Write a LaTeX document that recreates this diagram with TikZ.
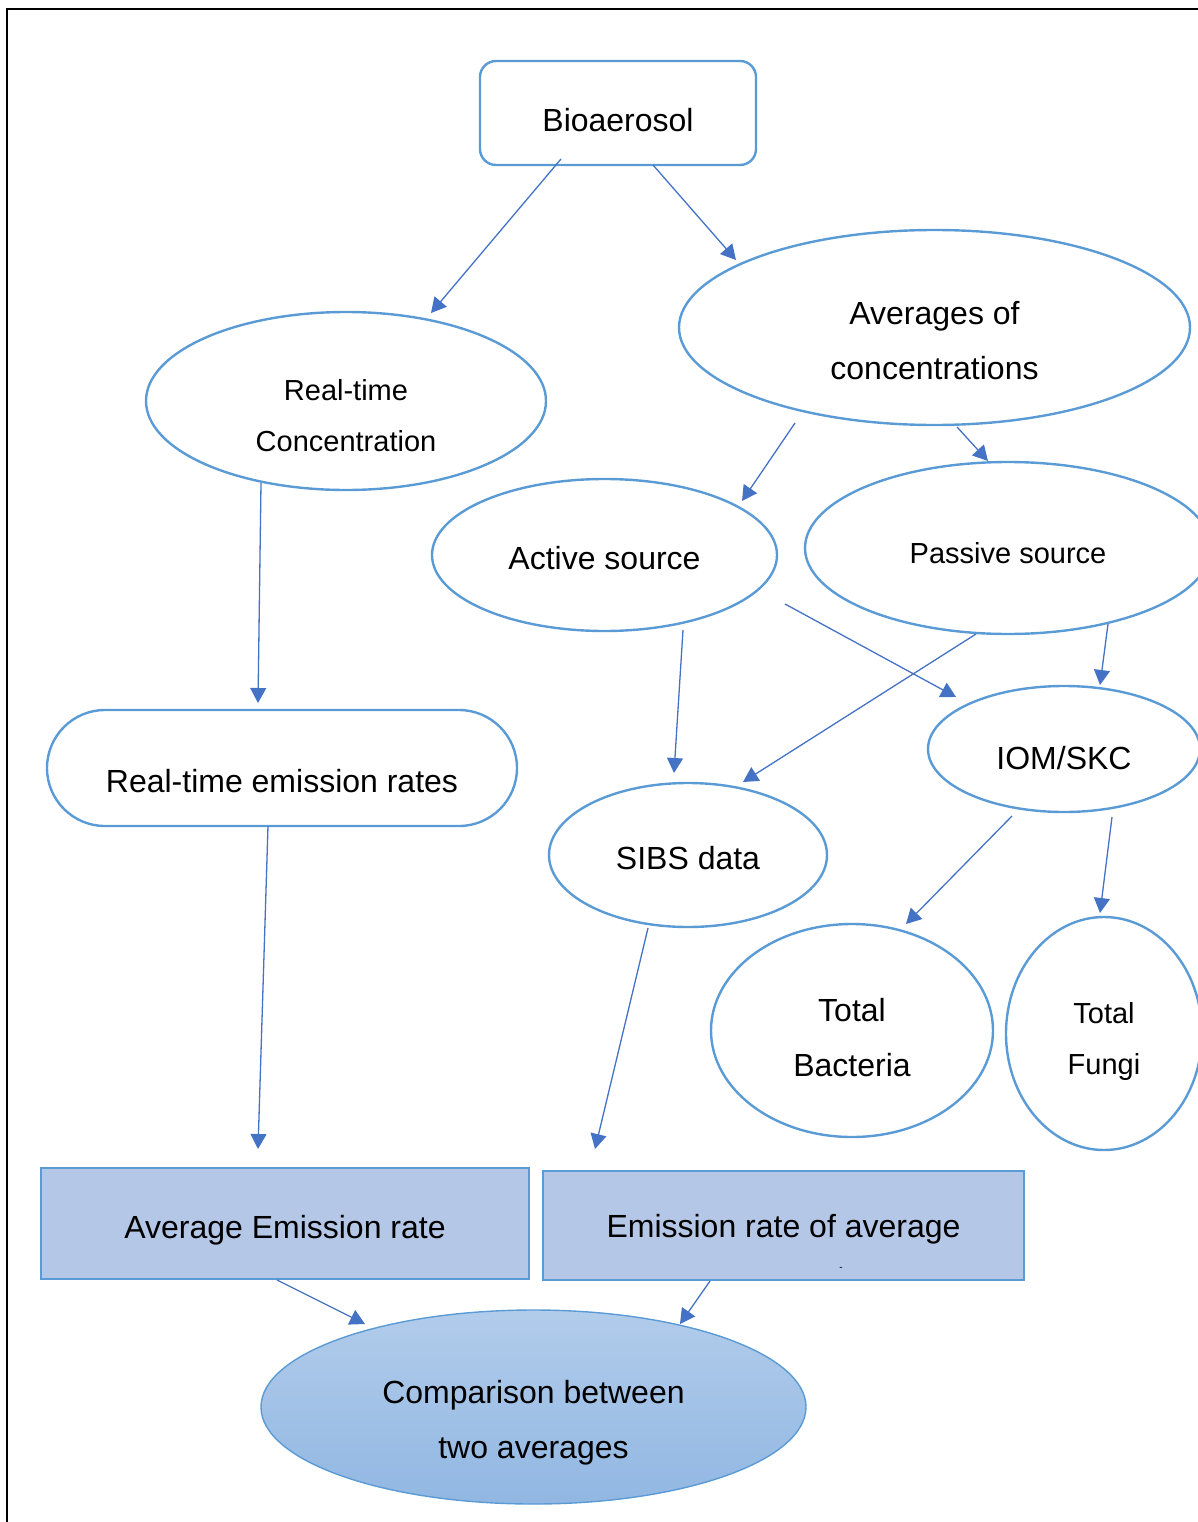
\documentclass[tikz,border=0pt]{standalone}
\usepackage{fontspec}
\setmainfont{Liberation Sans}
\usetikzlibrary{shapes.geometric,arrows.meta,calc}

\definecolor{outline}{HTML}{5B9BD5}
\definecolor{arrowblue}{HTML}{4472C4}
\definecolor{boxfill}{HTML}{B4C7E7}
\definecolor{shadetop}{RGB}{178,204,235}
\definecolor{shadebot}{RGB}{145,183,226}

\tikzset{
  big/.style={font=\fontsize{32}{55}\selectfont},
  small/.style={font=\fontsize{29}{51}\selectfont},
  caption/.style={align=center, text=black, inner sep=0pt},
  oval/.style={ellipse, draw=outline, line width=2.4pt, inner sep=0pt},
  roundbox/.style={rectangle, draw=outline, line width=2.4pt, inner sep=0pt},
  filledbox/.style={rectangle, draw=outline, fill=boxfill, line width=2.4pt, inner sep=0pt},
  link/.style={draw=arrowblue, line width=1.3pt, -{Triangle[length=15pt,width=16pt]}}
}

\begin{document}
\begin{tikzpicture}[x=1pt, y=-1pt]
  \useasboundingbox (0,0) rectangle (1198,1522);
  \clip (0,0) rectangle (1198,1522);

  % page frame
  \draw[line width=2.5pt] (7,1540) -- (7,9) -- (1220,9);

  % top level
  \node[roundbox, rounded corners=16pt, minimum width=276pt, minimum height=104pt,
        label={[caption, big, yshift=-7pt]center:Bioaerosol}] (bio) at (618,113) {};

  % second level
  \node[oval, minimum width=400pt, minimum height=178pt,
        label={[caption, small, yshift=-15pt]center:{Real-time\\Concentration}}] (rtc) at (346,401) {};
  \node[oval, minimum width=511pt, minimum height=195pt,
        label={[caption, big, yshift=-13pt]center:{Averages of\\concentrations}}] (avg) at (934.5,327.5) {};

  % sources
  \node[oval, minimum width=345pt, minimum height=152pt,
        label={[caption, big, yshift=-3pt]center:Active source}] (act) at (604.5,555) {};
  \node[oval, minimum width=406pt, minimum height=172pt,
        label={[caption, small, yshift=-5pt]center:Passive source}] (pas) at (1008,548) {};

  % emission rate chain
  \node[roundbox, rounded corners=58pt, minimum width=470pt, minimum height=116pt,
        label={[caption, big, yshift=-13pt]center:Real-time emission rates}] (rte) at (282,768) {};

  % samplers and data
  \node[oval, minimum width=272pt, minimum height=126pt,
        label={[caption, big, yshift=-9pt]center:IOM/SKC}] (iom) at (1064,749) {};
  \node[oval, minimum width=278pt, minimum height=144pt,
        label={[caption, big, yshift=-3pt]center:SIBS data}] (sibs) at (688,855) {};

  % culture results
  \node[oval, minimum width=282pt, minimum height=213pt,
        label={[caption, big, yshift=-7pt]center:{Total\\Bacteria}}] (bac) at (852,1030.5) {};
  \node[oval, minimum width=196pt, minimum height=233pt,
        label={[caption, small, yshift=-8pt]center:{Total\\Fungi}}] (fun) at (1104,1033.5) {};

  % averaged rates
  \node[filledbox, minimum width=488pt, minimum height=111pt,
        label={[caption, big, yshift=-7pt]center:Average Emission rate}] (avge) at (285,1223.5) {};
  \node[filledbox, minimum width=481pt, minimum height=109pt,
        label={[caption, big, yshift=-4pt]center:Emission rate of average}] (era) at (783.5,1225.5) {};
  \node[caption, font=\fontsize{10}{12}\selectfont] (dash) at (841,1269) {-};

  % final comparison
  \node[ellipse, draw=outline, line width=1.4pt, inner sep=0pt,
        top color=shadetop, bottom color=shadebot,
        minimum width=545pt, minimum height=194pt,
        label={[caption, big, yshift=-16pt]center:{Comparison between\\two averages}}] (cmp) at (533.5,1407) {};

  % connectors
  \draw[link] ($(bio.center)+(-57,46)$)   -- ($(rtc.center)+(85,-88)$);
  \draw[link] ($(bio.center)+(35,52)$)    -- ($(avg.center)+(-198.5,-67.5)$);
  \draw[link] ($(rtc.center)+(-85,82)$)   -- ($(rte.center)+(-24,-65)$);
  \draw[link] ($(avg.center)+(-139.5,95.5)$) -- ($(act.center)+(137.5,-54)$);
  \draw[link] ($(avg.center)+(22.5,99.5)$)  -- ($(pas.center)+(-20,-87)$);
  \draw[link] ($(act.center)+(78.5,75)$)  -- ($(sibs.center)+(-14,-82)$);
  \draw[link] ($(act.center)+(180.5,49)$) -- ($(iom.center)+(-108,-52)$);
  \draw[link] ($(pas.center)+(-32,86)$)   -- ($(sibs.center)+(55,-73)$);
  \draw[link] ($(pas.center)+(100,76)$)   -- ($(iom.center)+(36,-64)$);
  \draw[link] ($(iom.center)+(-52,67)$)   -- ($(bac.center)+(54,-106.5)$);
  \draw[link] ($(iom.center)+(48,68)$)    -- ($(fun.center)+(-4,-120.5)$);
  \draw[link] ($(rte.center)+(-14,58)$)   -- ($(avge.center)+(-27,-74.5)$);
  \draw[link] ($(sibs.center)+(-40,73)$)  -- ($(era.center)+(-188.5,-76.5)$);
  \draw[link] ($(avge.center)+(-8,56.5)$) -- ($(cmp.center)+(-168.5,-83)$);
  \draw[link] ($(era.center)+(-73.5,55.5)$) -- ($(cmp.center)+(146.5,-83)$);
\end{tikzpicture}
\end{document}
